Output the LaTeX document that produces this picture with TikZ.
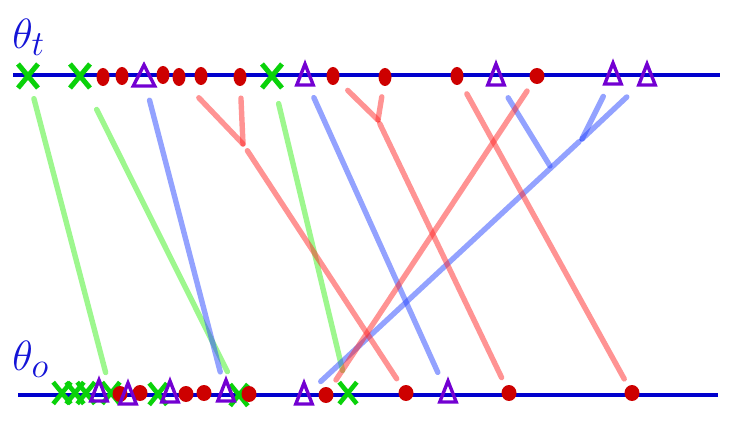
\documentclass[tikz,border=0pt]{standalone}
\usetikzlibrary{shapes.geometric,shapes.misc}
\definecolor{axisblue}{RGB}{0,0,205}
\definecolor{labelblue}{RGB}{20,20,215}
\definecolor{xgreen}{RGB}{10,210,10}
\definecolor{blobred}{RGB}{205,0,0}
\definecolor{tripurple}{RGB}{115,0,210}
\definecolor{lgreen}{RGB}{60,240,30}
\definecolor{lred}{RGB}{255,40,40}
\definecolor{lblue}{RGB}{40,70,255}
\tikzset{
  axisline/.style={draw=axisblue, line width=3.2pt},
  gx/.style={cross out, draw=xgreen, line width=5pt, minimum width=15pt, minimum height=19pt, inner sep=0pt},
  gxs/.style={gx, line width=4.6pt, minimum width=13pt, minimum height=17pt},
  rb/.style={ellipse, fill=blobred, draw=none, minimum width=13pt, minimum height=18pt, inner sep=0pt},
  rbs/.style={ellipse, fill=blobred, draw=none, minimum width=15pt, minimum height=16pt, inner sep=0pt},
  tri/.style={regular polygon, regular polygon sides=3, draw=tripurple, line width=3.4pt, minimum size=28pt, inner sep=0pt, xscale=0.68},
  conn/.style={line width=5.4pt, line cap=round, opacity=0.5},
  gl/.style={conn, draw=lgreen},
  rl/.style={conn, draw=lred},
  bl/.style={conn, draw=lblue},
  lab/.style={text=labelblue, font=\Huge, scale=1.7, inner sep=0pt}
}
\begin{document}
\begin{tikzpicture}[x=1pt,y=-1pt]
\useasboundingbox (0,0) rectangle (747,438);
% axes
\draw[axisline] (13,75) -- (720,75);
\draw[axisline] (18,395) -- (718,395);
% labels
\node[lab, anchor=north west] (lt) at (12,19) {$\theta_t$};
\node[lab, anchor=north west] (lo) at (12,341) {$\theta_o$};
% top markers
\node[gx] (tXa) at (28,76) {};
\node[gx] (tXb) at (80,76) {};
\node[gx] (tXc) at (272,76) {};
\node[rb] (tRa) at (103,77) {};
\node[rb] (tRb) at (122,76) {};
\node[rb] (tRc) at (163,75) {};
\node[rb] (tRd) at (179,77) {};
\node[rb] (tRe) at (201,76) {};
\node[rb] (tRf) at (240,77) {};
\node[rb] (tRg) at (333,76) {};
\node[rb] (tRh) at (385,77) {};
\node[rb] (tRi) at (457,76) {};
\node[rbs] (tRj) at (537,76) {};
\node[tri, xscale=1.3] (tTa) at (144,79) {};
\node[tri] (tTb) at (305,78) {};
\node[tri] (tTc) at (496,78) {};
\node[tri] (tTd) at (613,77) {};
\node[tri] (tTe) at (647,78) {};
% bottom markers
\node[gxs] (bXa) at (62,393) {};
\node[gxs] (bXb) at (75,393) {};
\node[gxs] (bXc) at (86,393) {};
\node[gxs] (bXd) at (111,393) {};
\node[gxs] (bXe) at (158,394) {};
\node[gxs] (bXf) at (239,395) {};
\node[gxs] (bXg) at (348,393) {};
\node[rbs] (bRa) at (120,394) {};
\node[rbs] (bRb) at (140,393) {};
\node[rbs] (bRc) at (186,394) {};
\node[rbs] (bRd) at (204,393) {};
\node[rbs] (bRe) at (249,394) {};
\node[rbs] (bRf) at (326,395) {};
\node[rbs] (bRg) at (406,393) {};
\node[rbs] (bRh) at (509,393) {};
\node[rbs] (bRi) at (632,393) {};
\node[tri] (bTa) at (99,394) {};
\node[tri] (bTb) at (128,397) {};
\node[tri] (bTc) at (170,395) {};
\node[tri] (bTd) at (226,394) {};
\node[tri] (bTe) at (304,397) {};
\node[tri] (bTf) at (448,395) {};
% junctions
\coordinate (jA) at (243,144);
\coordinate (jB) at (378,120);
\coordinate (j3) at (582,139);
\coordinate (j4) at (550,166);
% green connectors
\draw[gl, shorten <=11pt, shorten >=10pt] (tXa) -- (bXd);
\draw[gl, shorten <=24pt, shorten >=14pt] (tXb) -- (bXf);
\draw[gl, shorten <=16pt, shorten >=12pt] (tXc) -- (bXg);
% blue connectors
\draw[bl, shorten <=13pt, shorten >=12pt] (tTa) -- (bTd);
\draw[bl, shorten <=12pt, shorten >=16pt] (tTb) -- (bTf);
\draw[bl, shorten <=13pt] (tTc) -- (j4);
\draw[bl, shorten <=12pt] (tTd) -- (j3);
\draw[bl, shorten <=15pt] (tTe) -- (j3);
\draw[bl, shorten <=4pt, shorten >=16pt] (j3) -- (bTe);
% red connectors
\draw[rl, shorten <=21pt] (tRd) -- (jA);
\draw[rl, shorten <=12pt] (tRf) -- (jA);
\draw[rl, shorten <=8pt, shorten >=9pt] (jA) -- (bRg);
\draw[rl, shorten <=13pt] (tRg) -- (jB);
\draw[rl, shorten <=11pt] (tRh) -- (jB);
\draw[rl, shorten <=4pt, shorten >=9pt] (jB) -- (bRh);
\draw[rl, shorten <=12pt, shorten >=8pt] (tRi) -- (bRi);
\draw[rl, shorten <=10pt, shorten >=10pt] (tRj) -- (bRf);
\end{tikzpicture}
\end{document}
